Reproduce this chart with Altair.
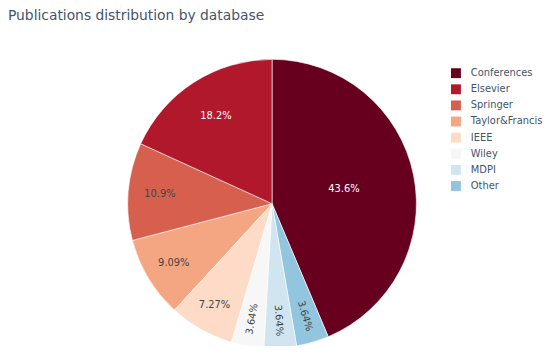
import altair as alt
import pandas as pd
import math

categories = ["Conferences", "Elsevier", "Springer", "Taylor&Francis", "IEEE", "Wiley", "MDPI", "Other"]
counts = [24, 10, 6, 5, 4, 2, 2, 2]
colors = ["#67001f", "#b2182b", "#d6604d", "#f4a582", "#fddbc7", "#f7f7f7", "#d1e5f0", "#92c5de"]
pie_order = ["Conferences", "Other", "MDPI", "Wiley", "IEEE", "Taylor&Francis", "Springer", "Elsevier"]

PAD_TOP = 26
R = 146
CX = 267
CY = 204 - 8 - PAD_TOP

total = sum(counts)
rows = []
cum = 0.0
for k, name in enumerate(pie_order):
    i = categories.index(name)
    frac = counts[i] / total
    mid = (cum + frac / 2) * 360
    cum += frac
    if frac < 0.05:
        ang = mid - 90
        if ang > 90:
            ang -= 180
        rr = R * 0.81
    else:
        ang = 0
        rr = R * (0.87 - 0.83 * frac)
    rows.append({
        "category": name,
        "count": counts[i],
        "order": k,
        "mid": math.radians(mid),
        "label": f"{frac * 100:.3g}%",
        "angle": ang,
        "r": rr,
        "tc": "#ffffff" if frac > 0.15 else "#444444",
    })
df = pd.DataFrame(rows)

arcs = alt.Chart(df).mark_arc(outerRadius=R, stroke="#ffffff", strokeWidth=0.6).encode(
    theta=alt.Theta("count:Q", stack=True),
    order=alt.Order("order:Q"),
    x=alt.value(CX),
    y=alt.value(CY),
    color=alt.Color(
        "category:N",
        scale=alt.Scale(domain=categories, range=colors),
        sort=categories,
        legend=alt.Legend(
            title=None,
            orient="none",
            legendX=448,
            legendY=67 - 8 - PAD_TOP,
            symbolType="square",
            symbolSize=100,
            symbolStrokeWidth=0,
            labelFont="DejaVu Sans",
            labelFontSize=10,
            labelColor="#44546a",
            labelOffset=10,
            rowPadding=6.3,
            padding=0,
        ),
    ),
)

texts = alt.Chart(df).mark_text(font="DejaVu Sans", fontSize=10, baseline="middle", align="center").encode(
    x=alt.value(CX),
    y=alt.value(CY),
    theta=alt.Theta("mid:Q", scale=None),
    radius=alt.Radius("r:Q", scale=None),
    text="label:N",
    angle=alt.Angle("angle:Q", scale=None),
    color=alt.Color("tc:N", scale=None),
)

chart = alt.layer(arcs, texts).properties(
    width=540,
    height=338 - PAD_TOP,
    padding={"left": 0, "top": PAD_TOP, "right": 0, "bottom": 0},
    autosize=alt.AutoSizeParams(type="none"),
    title=alt.TitleParams(
        "Publications distribution by database",
        anchor="start",
        frame="group",
        font="DejaVu Sans",
        fontSize=14,
        fontWeight="normal",
        color="#44546a",
        baseline="alphabetic",
        offset=2,
    ),
).resolve_scale(theta="independent", color="independent").configure_view(stroke=None)

chart.save("out.html", embed_options={"renderer": "svg", "actions": False})
